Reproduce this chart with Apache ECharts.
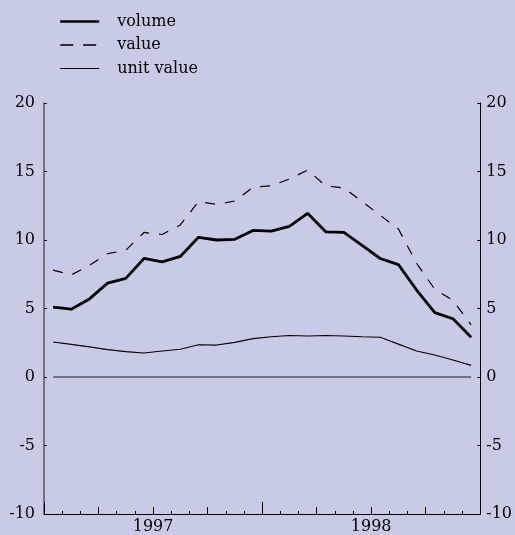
<!DOCTYPE html>
<html>
<head>
<meta charset="utf-8">
<script src="https://cdn.jsdelivr.net/npm/echarts@6/dist/echarts.min.js"></script>
<style>
html,body{margin:0;padding:0;background:#c7cbe6;}
#chart{width:515px;height:535px;}
</style>
</head>
<body>
<div id="chart"></div>
<script>
// Monthly data, Jan 1997 - Dec 1998 (percent change)
var months = ['1997-01','1997-02','1997-03','1997-04','1997-05','1997-06','1997-07','1997-08','1997-09','1997-10','1997-11','1997-12',
              '1998-01','1998-02','1998-03','1998-04','1998-05','1998-06','1998-07','1998-08','1998-09','1998-10','1998-11','1998-12'];
var volume = [5.1, 4.95, 5.7, 6.85, 7.2, 8.65, 8.4, 8.8, 10.2, 10.0, 10.05, 10.7,
              10.65, 11.0, 11.95, 10.6, 10.55, 9.6, 8.65, 8.2, 6.35, 4.7, 4.25, 2.9];
var value = [7.8, 7.45, 8.15, 9.0, 9.25, 10.55, 10.4, 11.1, 12.8, 12.6, 12.85, 13.85,
             13.95, 14.45, 15.1, 13.95, 13.8, 12.8, 11.8, 10.8, 8.3, 6.4, 5.6, 3.8];
var unitValue = [2.55, 2.38, 2.2, 2.0, 1.85, 1.75, 1.9, 2.02, 2.35, 2.33, 2.53, 2.8,
                 2.94, 3.03, 2.99, 3.03, 2.99, 2.94, 2.9, 2.4, 1.9, 1.6, 1.24, 0.85];
var yearLabels = {6: '1997', 18: '1998'};
var yTicks = {min: -10, max: 20, interval: 5};

function pairs(arr) {
  return arr.map(function (v, i) { return [i + 0.5, v]; });
}

var font = 'DejaVu Serif';
var fs = 16;
var chart = echarts.init(document.getElementById('chart'), null, {renderer: 'canvas'});

var baseX = {
  type: 'value', min: 0, max: months.length, position: 'bottom', gridIndex: 0,
  splitLine: {show: false}
};

var option = {
  backgroundColor: '#c7cbe6',
  animation: false,
  textStyle: {fontFamily: font},
  grid: {left: 44, right: 33, top: 103, bottom: 20, containLabel: false},
  legend: {
    orient: 'vertical', left: 59, top: 12, padding: 0,
    itemWidth: 39, itemHeight: 18, itemGap: 4.5,
    data: [
      {name: 'volume', lineStyle: {width: 2.4}},
      {name: 'value', lineStyle: {width: 1.3, type: [13, 10]}},
      {name: 'unit value', lineStyle: {width: 1.2}}
    ],
    itemStyle: {opacity: 0, color: 'rgba(0,0,0,0)', borderWidth: 0},
    textStyle: {fontFamily: font, fontSize: fs, color: '#000', lineHeight: 18, padding: [1, 0, 0, 13]}
  },
  xAxis: [
    Object.assign({}, baseX, {
      interval: 1,
      axisLine: {show: true, onZero: false, lineStyle: {color: '#000', width: 1}},
      axisTick: {show: true, inside: true, length: 3, lineStyle: {color: '#000'}},
      axisLabel: {
        show: true, margin: 5, fontFamily: font, fontSize: fs, color: '#000',
        formatter: function (v) { return yearLabels[v] || ''; }
      }
    }),
    Object.assign({}, baseX, {
      interval: 3,
      axisLine: {show: false, onZero: false},
      axisTick: {show: true, inside: true, length: 7, lineStyle: {color: '#000'}},
      axisLabel: {show: false}
    }),
    Object.assign({}, baseX, {
      interval: 12,
      axisLine: {show: false, onZero: false},
      axisTick: {show: true, inside: true, length: 12, lineStyle: {color: '#000'}},
      axisLabel: {show: false}
    })
  ],
  yAxis: [
    {
      type: 'value', position: 'left', min: yTicks.min, max: yTicks.max, interval: yTicks.interval,
      axisLine: {show: true, onZero: false, lineStyle: {color: '#555566', width: 1.5}},
      axisTick: {show: true, inside: true, length: 3, lineStyle: {color: '#000'}},
      axisLabel: {margin: 9, fontFamily: font, fontSize: fs, color: '#000'},
      splitLine: {show: false}
    },
    {
      type: 'value', position: 'right', min: yTicks.min, max: yTicks.max, interval: yTicks.interval,
      axisLine: {show: true, onZero: false, lineStyle: {color: '#000', width: 1}},
      axisTick: {show: true, inside: true, length: 3, lineStyle: {color: '#000'}},
      axisLabel: {margin: 6, fontFamily: font, fontSize: fs, color: '#000'},
      splitLine: {show: false}
    }
  ],
  series: [
    {
      name: 'volume', type: 'line', symbol: 'none', data: pairs(volume),
      lineStyle: {color: '#000', width: 2.8},
      itemStyle: {color: '#000'},
      z: 5,
      markLine: {
        silent: true, symbol: 'none', label: {show: false},
        lineStyle: {color: '#55556a', width: 1.5, type: 'solid'},
        data: [[{coord: [0.5, 0]}, {coord: [months.length - 0.5, 0]}]]
      }
    },
    {
      name: 'value', type: 'line', symbol: 'none', data: pairs(value),
      lineStyle: {color: '#000', width: 1.2, type: [10, 10]},
      itemStyle: {color: '#000'},
      z: 4
    },
    {
      name: 'unit value', type: 'line', symbol: 'none', data: pairs(unitValue),
      lineStyle: {color: '#000', width: 1.1},
      itemStyle: {color: '#000'},
      z: 3
    }
  ]
};
chart.setOption(option);
</script>
</body>
</html>
